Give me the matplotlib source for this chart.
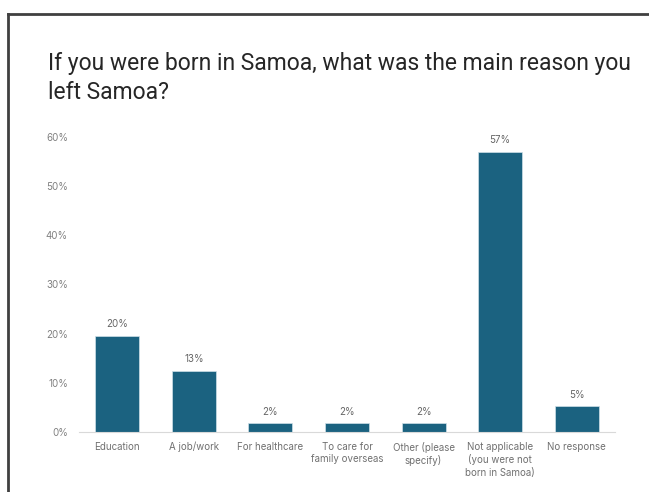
import matplotlib
matplotlib.use("Agg")
import matplotlib.pyplot as plt
from matplotlib.lines import Line2D

categories = ["Education", "A job/work", "For healthcare", "To care for\nfamily overseas",
              "Other (please\nspecify)", "Not applicable\n(you were not\nborn in Samoa)", "No response"]
values = [19.6, 12.5, 1.8, 1.8, 1.8, 57.0, 5.3]
labels = ["20%", "13%", "2%", "2%", "2%", "57%", "5%"]
yticks = [0, 10, 20, 30, 40, 50, 60]

W, H = 649, 492
fig = plt.figure(figsize=(W/100, H/100), dpi=100)
plt.rcParams['font.family'] = ['Inter', 'DejaVu Sans']

ax = fig.add_axes([79/W, 1-432/H, (615-79)/W, (432-137)/H])
x = range(len(categories))
ax.bar(x, values, width=0.575, color="#1b6280", edgecolor="#cfe0e8", linewidth=0.5)
for xi, v, l in zip(x, values, labels):
    ax.text(xi, v + 1.3, l, ha="center", va="bottom", fontsize=7, color="#666666")
ax.set_xlim(-0.5, len(categories) - 0.5)
ax.set_ylim(0, 60)
ax.set_yticks(yticks)
ax.set_yticklabels([f"{t}%" for t in yticks], fontsize=7, color="#808080")
ax.set_xticks(list(x))
ax.set_xticklabels(categories, fontsize=7, color="#707070", linespacing=1.3)
for s in ["top", "right", "left"]:
    ax.spines[s].set_visible(False)
ax.spines["bottom"].set_color("#d9d9d9")
ax.tick_params(axis="both", length=0)
ax.tick_params(axis="y", pad=8)
ax.tick_params(axis="x", pad=7)

fig.text(48/W, 1-78/H, "If you were born in Samoa, what was the main reason you\nleft Samoa?",
         fontsize=16.5, color="#262626", ha="left", va="center", linespacing=1.3,
         family=["Roboto", "DejaVu Sans"])

fig.add_artist(Line2D([7.5/W, 1], [1-13.5/H, 1-13.5/H], color="#404040", lw=2, transform=fig.transFigure))
fig.add_artist(Line2D([7.5/W, 7.5/W], [0, 1-13.5/H], color="#404040", lw=2, transform=fig.transFigure))

fig.savefig("out.png", dpi=100)
